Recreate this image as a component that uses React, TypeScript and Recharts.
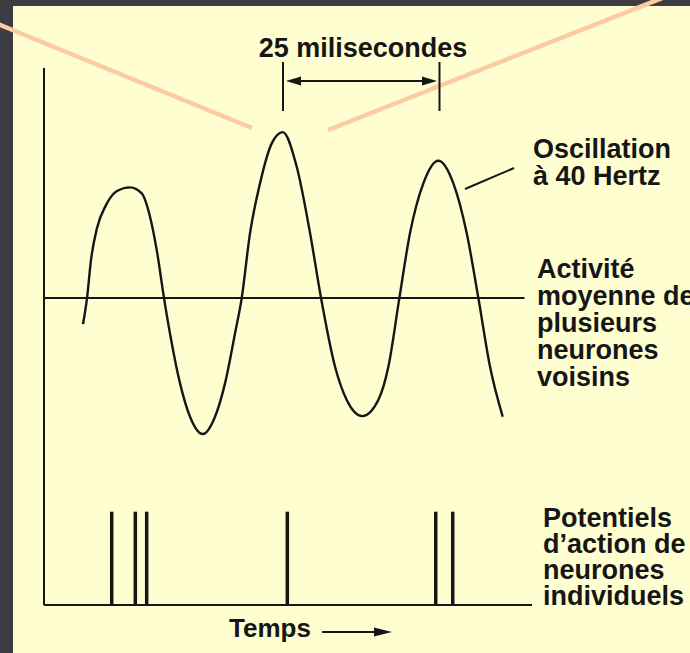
import React from "react";
import { ComposedChart, Line, XAxis, YAxis, ReferenceLine } from "recharts";

// ---- data ----
// time (ms) of each sampled point of the 40 Hz oscillation
const TIME_MS = [
  6.21, 6.85, 7.48, 8.44, 9.87, 11.62, 13.69, 15.56, 16.88, 17.95,
  19.11, 20.06, 21.66, 23.25, 25.27, 27.23, 28.82, 30.41, 31.48, 32.8,
  34.39, 36.26, 38.01, 40.24, 42.36, 44.11, 46.34, 48.2, 50.68, 53.23,
  54.83, 56.58, 58.28, 60.4, 62.79, 65.18, 67.31, 69.16, 71.02, 73.04,
];
// mean activity of neighbouring neurons (arbitrary units, largest peak = 1)
const ACTIVITY = [
  -0.157, 0, 0.229, 0.422, 0.56, 0.645, 0.667, 0.631, 0.49, 0.289,
  0, -0.213, -0.514, -0.715, -0.819, -0.715, -0.514, -0.213, 0, 0.39,
  0.691, 0.932, 1.0, 0.791, 0.392, 0, -0.414, -0.614, -0.711, -0.614,
  -0.414, 0, 0.392, 0.691, 0.827, 0.691, 0.39, 0, -0.414, -0.715,
];
// action potentials of individual neurons (ms)
const SPIKE_TIMES = [10.78, 14.54, 16.35, 38.74, 62.37, 65.08];
const SPIKE_HEIGHT = 1;

const TITLE = "25 milisecondes";
const LABEL_OSC = ["Oscillation", "à 40 Hertz"];
const LABEL_MEAN = ["Activité", "moyenne de", "plusieurs", "neurones", "voisins"];
const LABEL_SPIKES = ["Potentiels", "d’action de", "neurones", "individuels"];
const LABEL_TIME = "Temps";

const oscData = TIME_MS.map((t, i) => ({ t, v: ACTIVITY[i] }));

// ---- layout / style ----
const W = 690;
const H = 653;
const BG = "#3b3d42";
const PANEL = "#fefed0";
const INK = "#161616";
const PINK = "#ffc9a2";
const FONT = "'Liberation Sans', Arial, Helvetica, sans-serif";
const X_MAX = 77.7;
const SPK_MAX = 5.755;

export default function App() {
  const textStyle: React.CSSProperties = {
    fontFamily: FONT,
    fontWeight: 700,
    fontSize: 27,
    fill: INK,
  };
  return (
    <div
      style={{
        position: "absolute",
        left: 0,
        top: 0,
        width: W,
        height: H,
        background: BG,
        overflow: "hidden",
      }}
    >
      <div
        style={{
          position: "absolute",
          left: 13,
          top: 6,
          right: 0,
          bottom: 0,
          background: PANEL,
        }}
      />
      <div style={{ position: "absolute", left: 0, top: 0 }}>
        <ComposedChart
          width={W}
          height={H}
          margin={{ top: 68, right: 158, bottom: 48, left: 44 }}
        >
          <XAxis
            type="number"
            dataKey="t"
            domain={[0, X_MAX]}
            allowDataOverflow
            hide
          />
          <YAxis
            yAxisId="osc"
            type="number"
            domain={[-1.849, 1.386]}
            allowDataOverflow
            hide
          />
          <YAxis
            yAxisId="spk"
            type="number"
            domain={[0, SPK_MAX]}
            allowDataOverflow
            hide
          />
          {/* vertical axis */}
          <ReferenceLine
            yAxisId="spk"
            segment={[
              { x: 0, y: 0 },
              { x: 0, y: SPK_MAX },
            ]}
            stroke={INK}
            strokeWidth={2}
          />
          {/* time baseline */}
          <ReferenceLine
            yAxisId="spk"
            segment={[
              { x: 0, y: 0 },
              { x: X_MAX, y: 0 },
            ]}
            stroke={INK}
            strokeWidth={2}
          />
          {/* mean-activity midline */}
          <ReferenceLine
            yAxisId="osc"
            segment={[
              { x: 0, y: 0 },
              { x: 76.5, y: 0 },
            ]}
            stroke={INK}
            strokeWidth={2}
          />
          {SPIKE_TIMES.map((t) => (
            <ReferenceLine
              key={t}
              yAxisId="spk"
              segment={[
                { x: t, y: 0 },
                { x: t, y: SPIKE_HEIGHT },
              ]}
              stroke={INK}
              strokeWidth={3.5}
            />
          ))}
          <Line
            yAxisId="osc"
            data={oscData}
            dataKey="v"
            type="monotone"
            stroke={INK}
            strokeWidth={2.4}
            dot={false}
            activeDot={false}
            isAnimationActive={false}
          />
        </ComposedChart>
      </div>
      <svg
        width={W}
        height={H}
        style={{ position: "absolute", left: 0, top: 0, pointerEvents: "none" }}
      >
        {/* pink pointer lines */}
        <line x1={-2} y1={24} x2={252} y2={128} stroke={PINK} strokeWidth={4.5} />
        <line x1={328} y1={130} x2={670} y2={-5} stroke={PINK} strokeWidth={4.5} />

        {/* 25 ms span */}
        <text x={363} y={57} textAnchor="middle" style={textStyle}>
          {TITLE}
        </text>
        <line x1={283} y1={62} x2={283} y2={111} stroke={INK} strokeWidth={2} />
        <line x1={439.5} y1={62} x2={439.5} y2={111} stroke={INK} strokeWidth={2} />
        <line x1={296} y1={81} x2={427} y2={81} stroke={INK} strokeWidth={2.2} />
        <polygon points="286,81 301,76.5 301,85.5" fill={INK} />
        <polygon points="437,81 422,76.5 422,85.5" fill={INK} />

        {/* leader to the oscillation */}
        <line x1={465} y1={189} x2={514} y2={168} stroke={INK} strokeWidth={2} />

        {LABEL_OSC.map((s, i) => (
          <text key={s} x={533} y={158 + i * 27} style={textStyle}>
            {s}
          </text>
        ))}
        {LABEL_MEAN.map((s, i) => (
          <text key={s} x={537} y={278 + i * 27} style={textStyle}>
            {s}
          </text>
        ))}
        {LABEL_SPIKES.map((s, i) => (
          <text key={s} x={543} y={527 + i * 26} style={textStyle}>
            {s}
          </text>
        ))}

        <text x={229} y={637} style={{ ...textStyle, fontSize: 26 }}>
          {LABEL_TIME}
        </text>
        <line x1={322} y1={632} x2={378} y2={632} stroke={INK} strokeWidth={2} />
        <polygon points="392,632 374,627.5 374,636.5" fill={INK} />
      </svg>
    </div>
  );
}
